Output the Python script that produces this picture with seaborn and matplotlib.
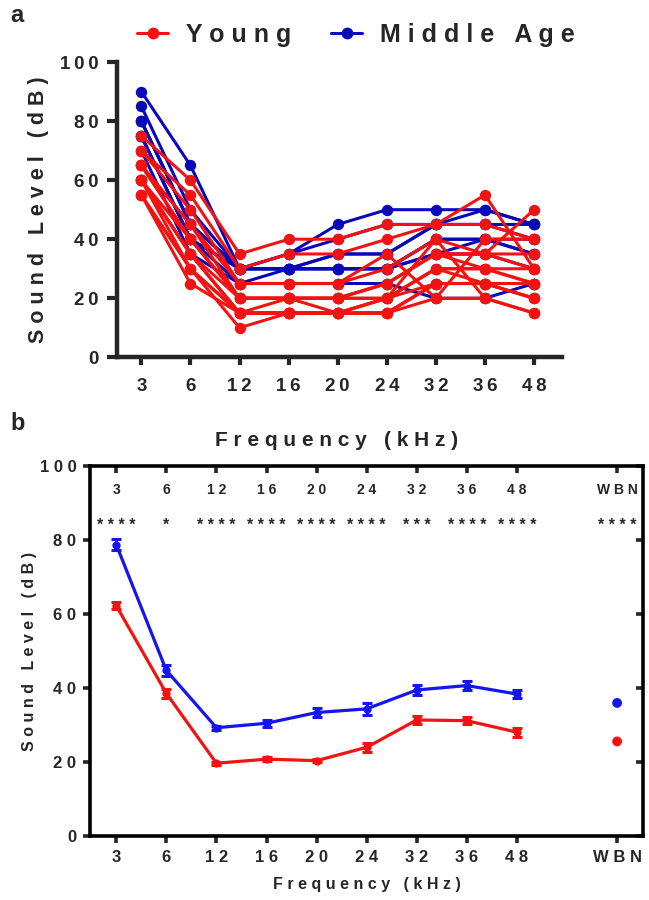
import numpy as np
import pandas as pd
import matplotlib
matplotlib.use("Agg")
import matplotlib.pyplot as plt
import seaborn as sns
from matplotlib.lines import Line2D

# frequencies (kHz) shown on the x axis
freqs = ["3", "6", "12", "16", "20", "24", "32", "36", "48"]

# panel a: individual thresholds (dB), one row per animal
young = [
    [75, 60, 35, 40, 40, 45, 45, 55, 30],
    [70, 55, 30, 35, 35, 40, 45, 45, 40],
    [70, 50, 25, 25, 25, 35, 20, 40, 40],
    [65, 45, 25, 25, 25, 30, 40, 35, 35],
    [65, 45, 20, 20, 20, 25, 35, 35, 50],
    [65, 40, 20, 20, 20, 25, 35, 35, 30],
    [65, 40, 20, 20, 20, 25, 35, 30, 30],
    [60, 40, 20, 20, 20, 20, 30, 30, 25],
    [60, 35, 20, 20, 20, 20, 30, 30, 25],
    [60, 35, 15, 20, 15, 20, 30, 25, 25],
    [60, 35, 15, 15, 15, 20, 25, 25, 25],
    [60, 35, 15, 15, 15, 15, 25, 25, 20],
    [60, 30, 15, 15, 15, 15, 25, 25, 20],
    [55, 30, 15, 15, 15, 15, 25, 25, 20],
    [55, 30, 10, 15, 15, 15, 20, 20, 15],
    [55, 25, 15, 15, 15, 20, 40, 20, 15],
]
middle = [
    [90, 65, 30, 35, 45, 50, 50, 50, 45],
    [85, 50, 30, 35, 40, 45, 45, 50, 45],
    [80, 45, 30, 30, 35, 35, 45, 45, 45],
    [80, 45, 30, 30, 35, 35, 45, 45, 40],
    [80, 45, 30, 30, 30, 30, 40, 40, 40],
    [75, 40, 30, 30, 30, 30, 40, 40, 35],
    [75, 40, 25, 30, 30, 30, 35, 40, 35],
    [75, 40, 30, 30, 30, 30, 35, 35, 30],
    [70, 35, 25, 25, 25, 25, 20, 20, 25],
]

# panel b: group mean +/- SEM (dB)
young_mean = [62.3, 38.6, 19.7, 20.8, 20.4, 24.0, 31.4, 31.2, 28.1]
young_sem = [1.0, 1.3, 0.4, 0.5, 0.4, 1.3, 1.0, 1.0, 1.2]
middle_mean = [78.8, 44.8, 29.3, 30.5, 33.4, 34.4, 39.5, 40.7, 38.4]
middle_sem = [1.5, 1.5, 0.5, 1.0, 1.2, 1.6, 1.4, 1.3, 1.1]
wbn_young = 25.6
wbn_middle = 36.0
stars = ["****", "*", "****", "****", "****", "****", "***", "****", "****", "****"]

RED = "#F21212"
BLUE_A = "#0808B8"
BLUE_B = "#1515EE"


def sp(s, gap=" "):
    # wide letter spacing as in the original figure
    return gap.join(s)


THIN = "\u2009"

sns.set_theme(style="ticks")
plt.rcParams["font.family"] = ["Liberation Sans", "DejaVu Sans"]
plt.rcParams["font.weight"] = "bold"
plt.rcParams["axes.labelweight"] = "bold"

fig = plt.figure(figsize=(6.49, 9), dpi=100)
ax1 = fig.add_axes([0.180, 0.603, 0.686, 0.328])
ax2 = fig.add_axes([0.139, 0.071, 0.852, 0.411])

# ---- panel a ----
rows = []
for g, mat in (("Middle Age", middle), ("Young", young)):
    for i, r in enumerate(mat):
        for j, v in enumerate(r):
            rows.append({"group": g, "animal": f"{g}{i}", "pos": j, "level": v})
df_a = pd.DataFrame(rows)

for g, c in (("Middle Age", BLUE_A), ("Young", RED)):
    sns.lineplot(data=df_a[df_a["group"] == g], x="pos", y="level", units="animal",
                 estimator=None, color=c, marker="o", markersize=8.2,
                 markeredgewidth=0, linewidth=2.2, ax=ax1)

ax1.set_xlim(-0.5, 8.57)
ax1.set_ylim(0, 100)
ax1.set_xticks(range(len(freqs)))
ax1.set_xticklabels([sp(f, THIN) for f in freqs])
ax1.set_yticks(range(0, 101, 20))
ax1.set_yticklabels([sp(str(v), THIN) for v in range(0, 101, 20)])
sns.despine(ax=ax1)
for s in ("left", "bottom"):
    ax1.spines[s].set_linewidth(3.2)
ax1.tick_params(axis="y", direction="out", length=7, width=3, labelsize=13.5, pad=6)
ax1.tick_params(axis="x", direction="out", length=6, width=3, labelsize=13.5, pad=9)
ax1.set_xlabel("")
ax1.set_ylabel(sp("Sound Level (dB)"), fontsize=15.5, labelpad=8)

handles = [Line2D([], [], color=RED, marker="o", markersize=8.5, markeredgewidth=0, lw=2.2),
           Line2D([], [], color=BLUE_A, marker="o", markersize=8.5, markeredgewidth=0, lw=2.2)]
fig.legend(handles, [sp("Young"), sp("Middle Age")], loc="center",
           bbox_to_anchor=(0.548, 0.961), ncol=2, frameon=False, fontsize=18,
           handlelength=1.25, columnspacing=1.6, handletextpad=0.7)

# ---- panel b ----
pos = np.arange(len(freqs))
df_b = pd.DataFrame({
    "group": ["Young"] * len(freqs) + ["Middle Age"] * len(freqs),
    "pos": np.concatenate([pos, pos]),
    "mean": young_mean + middle_mean,
    "sem": young_sem + middle_sem,
})
pal_b = {"Young": RED, "Middle Age": BLUE_B}
sns.lineplot(data=df_b, x="pos", y="mean", hue="group", palette=pal_b,
             marker="o", markersize=6, markeredgewidth=0, linewidth=2.3,
             legend=False, ax=ax2)
for g, sub in df_b.groupby("group"):
    ax2.errorbar(sub["pos"], sub["mean"], yerr=sub["sem"], fmt="none",
                 ecolor=pal_b[g], elinewidth=2.2, capsize=3.5, capthick=2.2)
sns.scatterplot(x=[10, 10], y=[wbn_young, wbn_middle], hue=["Young", "Middle Age"],
                palette=pal_b, s=50, linewidth=0, legend=False, ax=ax2)

xt = list(pos) + [10]
xlabels = freqs + ["WBN"]
ax2.set_xlim(-0.52, 10.52)
ax2.set_ylim(0, 100)
ax2.set_xticks(xt)
ax2.set_xticklabels([sp(l) for l in xlabels])
ax2.set_yticks(range(0, 101, 20))
ax2.set_yticklabels([sp(str(v)) for v in range(0, 101, 20)])
for s in ax2.spines.values():
    s.set_linewidth(2.6)
    s.set_color("black")
ax2.tick_params(direction="out", length=5, width=2.6, labelsize=12, pad=5)

top = ax2.secondary_xaxis("top")
top.set_xticks(xt)
top.tick_params(direction="in", length=5, width=2.6, labeltop=False)
right = ax2.secondary_yaxis("right")
right.set_yticks(range(0, 101, 20))
right.tick_params(direction="in", length=5, width=2.6, labelright=False)

for x, lab, st in zip(xt, xlabels, stars):
    ax2.text(x, 93.5, sp(lab), ha="center", va="center", fontsize=10)
    ax2.text(x, 84.0, sp(st), ha="center", va="center", fontsize=11.5)

ax2.set_xlabel(sp("Frequency (kHz)"), fontsize=11.5, labelpad=9)
ax2.set_ylabel(sp("Sound Level (dB)"), fontsize=11.5, labelpad=2)

fig.text(0.519, 1 - 441 / 900, sp("Frequency (kHz)"), ha="center", va="center", fontsize=15)
fig.text(10 / 649, 1 - 16 / 900, "a", ha="left", va="center", fontsize=17)
fig.text(10 / 649, 1 - 424 / 900, "b", ha="left", va="center", fontsize=17)

fig.savefig("out.png", dpi=100)
